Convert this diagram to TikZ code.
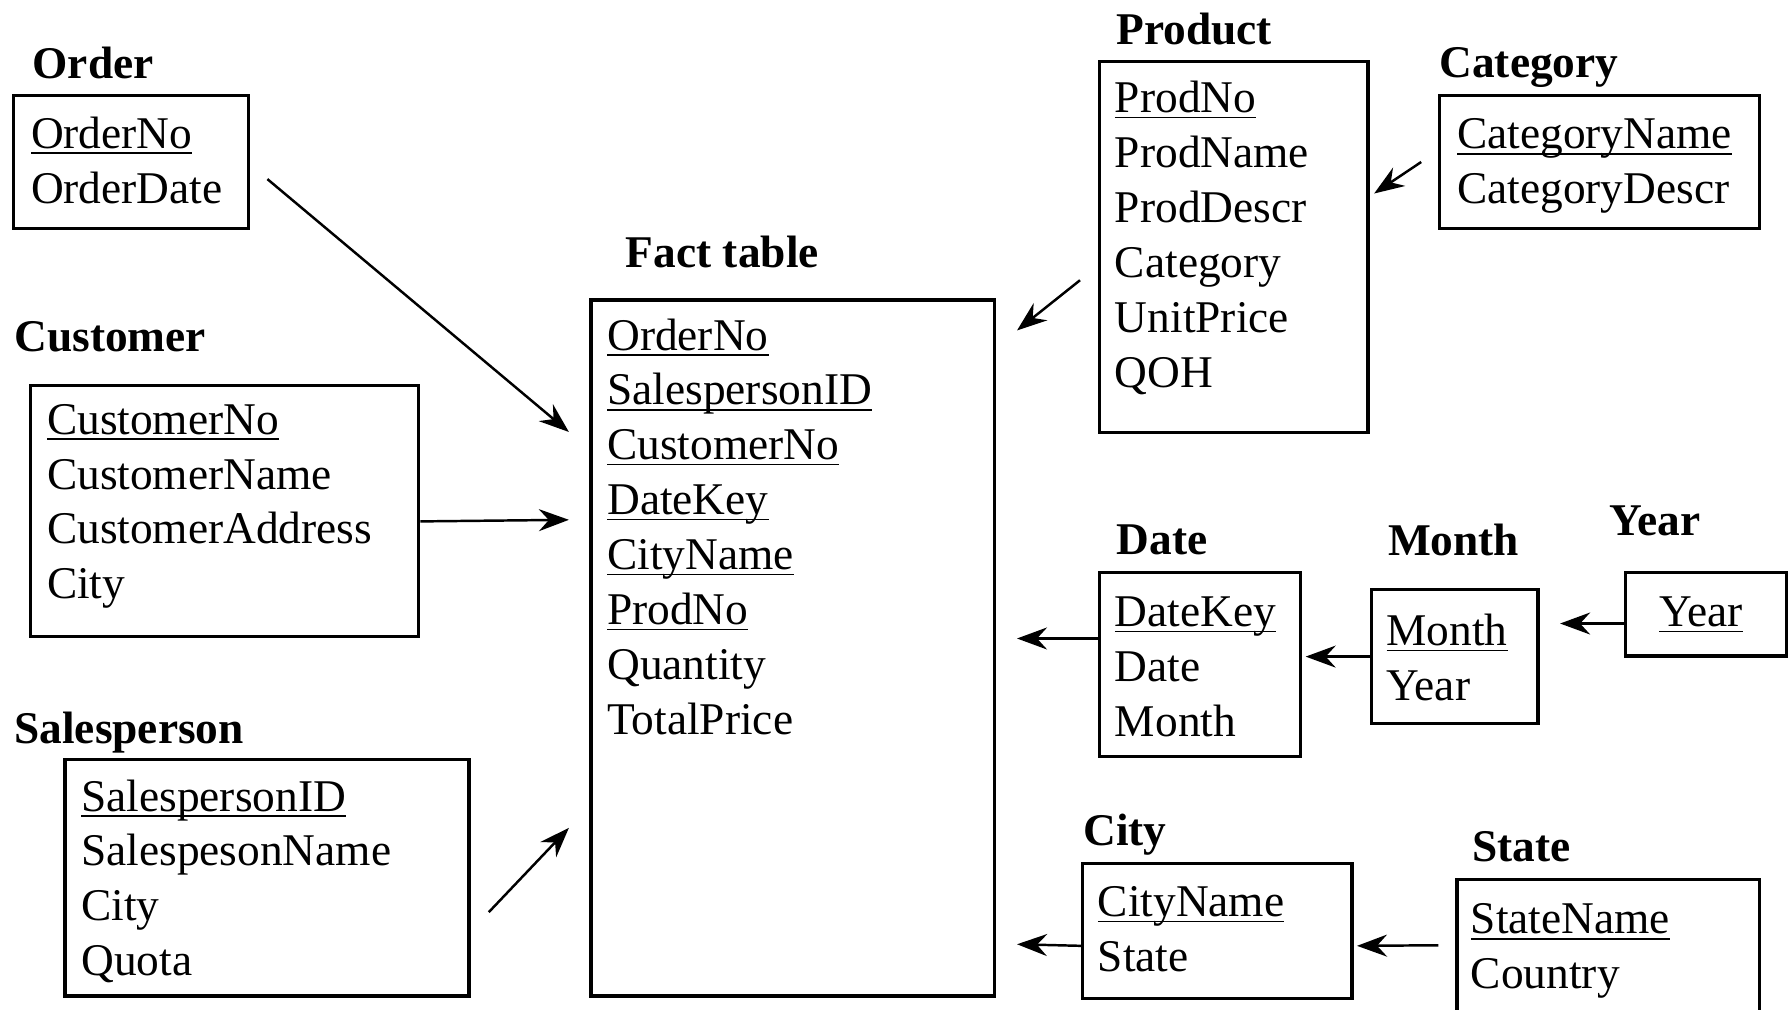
\documentclass[tikz,border=0pt]{standalone}
\usepackage{fontspec}
\setmainfont{Liberation Serif}
\usetikzlibrary{arrows.meta,
                fit,
                positioning}

% key attribute: underline that runs through the descenders
\newcommand{\pk}[1]{\underline{\smash{#1}}\vphantom{#1}}

\begin{document}
\begin{tikzpicture}[
            x = 0.0114cm, y = -0.0114cm,
            tbl/.style = {draw, line width=0.9pt, inner sep=0pt},
            rows/.style = {anchor=north west, inner sep=0pt, align=left,
                    font=\fontsize{12.9}{15.6}\selectfont},
            title/.style = {anchor=north west, inner sep=0pt,
                    font=\fontsize{12.9}{15.6}\selectfont\bfseries},
            fk/.style = {line width=0.7pt,
                    -{Stealth[length=3mm, width=2.2mm, inset=1mm]}}]

        \clip (0,0) rectangle (1568,885);

        % Fact table
        \node [tbl, fit={(518,263) (872,873)}] (fact) {};
        \node [rows] (fact-rows) at ([shift={(15,17)}]fact.north west)
            {\pk{OrderNo}\\ \pk{SalespersonID}\\ \pk{CustomerNo}\\
             \pk{DateKey}\\ \pk{CityName}\\ \pk{ProdNo}\\
             Quantity\\ TotalPrice};
        \node [title] (fact-title) at (548,206) {Fact table};

        % Left side
        \node [tbl, fit={(12,84) (218,200)}] (order) {};
        \node [rows] (order-rows) at ([shift={(16,19)}]order.north west)
            {\pk{OrderNo}\\ OrderDate};
        \node [title] (order-title) at (28,41) {Order};

        \node [tbl, fit={(27,338) (367,558)}] (cust) {};
        \node [rows] (cust-rows) at ([shift={(15,17)}]cust.north west)
            {\pk{CustomerNo}\\ CustomerName\\ CustomerAddress\\ City};
        \node [title] (cust-title) at (12,281) {Customer};

        \node [tbl, fit={(57,666) (411,873)}] (sales) {};
        \node [rows] (sales-rows) at ([shift={(15,18)}]sales.north west)
            {\pk{SalespersonID}\\ SalespesonName\\ City\\ Quota};
        \node [title] (sales-title) at (12,623) {Salesperson};

        % Right side
        \node [tbl, fit={(964,54) (1199,379)}] (prod) {};
        \node [rows] (prod-rows) at ([shift={(14,18)}]prod.north west)
            {\pk{ProdNo}\\ ProdName\\ ProdDescr\\ Category\\ UnitPrice\\ QOH};
        \node [title] (prod-title) at (978,11) {Product};

        \node [tbl, fit={(1262,84) (1542,200)}] (cat) {};
        \node [rows] (cat-rows) at ([shift={(16,21)}]cat.north west)
            {\pk{CategoryName}\\ CategoryDescr};
        \node [title] (cat-title) at (1261,41) {Category};

        \node [tbl, fit={(964,502) (1140,663)}] (date) {};
        \node [rows] (date-rows) at ([shift={(14,22)}]date.north west)
            {\pk{DateKey}\\ Date\\ Month};
        \node [title] (date-title) at (978,459) {Date};

        \node [tbl, fit={(1202,517) (1348,634)}] (month) {};
        \node [rows] (month-rows) at ([shift={(14,22)}]month.north west)
            {\pk{Month}\\ Year};
        \node [title] (month-title) at (1216,459) {Month};

        \node [tbl, fit={(1425,502) (1566,575)}] (year) {};
        \node [rows] (year-rows) at ([shift={(30,22)}]year.north west)
            {\pk{Year}};
        \node [title] (year-title) at (1410,443) {Year};

        \node [tbl, fit={(949,757) (1185,875)}] (city) {};
        \node [rows] (city-rows) at ([shift={(14,21)}]city.north west)
            {\pk{CityName}\\ State};
        \node [title] (city-title) at (949,713) {City};

        \node [tbl, fit={(1277,771) (1542,900)}] (state) {};
        \node [rows] (state-rows) at ([shift={(13,22)}]state.north west)
            {\pk{StateName}\\ Country};
        \node [title] (state-title) at (1290,728) {State};

        %% foreign keys
        \draw [fk] ([shift={(15,15)}]order.east) -- ([shift={(-18,117)}]fact.north west);
        \draw [fk] ([shift={(0,9)}]cust.east) -- ([shift={(-18,194)}]fact.north west);
        \draw [fk] ([shift={(16,30)}]sales.east) -- ([shift={(-18,464)}]fact.north west);
        \draw [fk] ([shift={(-16,193)}]prod.north west) -- ([shift={(18,28)}]fact.north east);
        \draw [fk] ([shift={(-15,0)}]cat.west) -- ([shift={(4,117)}]prod.north east);
        \draw [fk] ([shift={(0,59)}]date.north west) -- ([shift={(18,298)}]fact.north east);
        \draw [fk] (month.west) -- ([shift={(3,0)}]date.east |- month.west);
        \draw [fk] ([shift={(0,8)}]year.west) -- ([shift={(18,8)}]month.east |- year.west);
        \draw [fk] ([shift={(0,13)}]city.west) -- ([shift={(18,566)}]fact.north east);
        \draw [fk] ([shift={(-15,-7)}]state.west) -- ([shift={(3,13)}]city.east);
\end{tikzpicture}
\end{document}
